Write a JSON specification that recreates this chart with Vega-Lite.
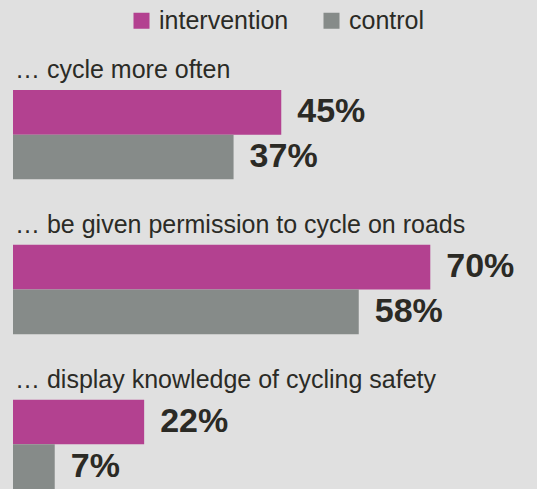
{
  "$schema": "https://vega.github.io/schema/vega-lite/v6.json",
  "width": 524,
  "height": 399,
  "autosize": {"type": "none"},
  "padding": {"left": 13, "top": 90, "right": 0, "bottom": 0},
  "background": "#e0e0e0",
  "config": {"view": {"stroke": null}, "font": "Liberation Sans"},
  "data": {
    "values": [
      {"question": "… cycle more often", "group": "intervention", "value": 0.45},
      {"question": "… cycle more often", "group": "control", "value": 0.37},
      {"question": "… be given permission to cycle on roads", "group": "intervention", "value": 0.70},
      {"question": "… be given permission to cycle on roads", "group": "control", "value": 0.58},
      {"question": "… display knowledge of cycling safety", "group": "intervention", "value": 0.22},
      {"question": "… display knowledge of cycling safety", "group": "control", "value": 0.07}
    ]
  },
  "encoding": {
    "y": {
      "field": "question",
      "type": "nominal",
      "sort": null,
      "axis": null,
      "scale": {"paddingInner": 0.4231, "paddingOuter": 0}
    }
  },
  "layer": [
    {
      "mark": {"type": "bar"},
      "encoding": {
        "x": {"field": "value", "type": "quantitative", "scale": {"domain": [0, 0.879], "nice": false}, "axis": null},
        "yOffset": {"field": "group", "type": "nominal", "sort": ["intervention", "control"], "scale": {"paddingInner": 0, "paddingOuter": 0}},
        "color": {
          "field": "group",
          "type": "nominal",
          "sort": ["intervention", "control"],
          "scale": {"domain": ["intervention", "control"], "range": ["#b34190", "#868b89"]},
          "legend": {
            "title": null,
            "orient": "none",
            "legendX": 116,
            "legendY": -82,
            "direction": "horizontal",
            "symbolType": "square",
            "symbolSize": 256,
            "symbolStrokeWidth": 0,
            "symbolOpacity": 1,
            "labelFontSize": 25,
            "labelFont": "Liberation Sans",
            "labelColor": "#2b2b26",
            "labelOffset": 5,
            "columnPadding": 30,
            "padding": 0,
            "labelLimit": 300
          }
        }
      }
    },
    {
      "mark": {"type": "text", "align": "left", "baseline": "middle", "dx": 16, "fontSize": 34, "fontWeight": "bold", "color": "#2b2a25"},
      "encoding": {
        "x": {"field": "value", "type": "quantitative"},
        "yOffset": {"field": "group", "type": "nominal", "sort": ["intervention", "control"]},
        "text": {"field": "value", "type": "quantitative", "format": ".0%"}
      }
    },
    {
      "transform": [{"filter": "datum.group === 'intervention'"}],
      "mark": {"type": "text", "align": "left", "baseline": "alphabetic", "dy": -12, "dx": 2, "fontSize": 25, "color": "#2b2b26"},
      "encoding": {
        "x": {"datum": 0, "type": "quantitative"},
        "y": {"field": "question", "type": "nominal", "bandPosition": 0},
        "text": {"field": "question", "type": "nominal"}
      }
    }
  ]
}
